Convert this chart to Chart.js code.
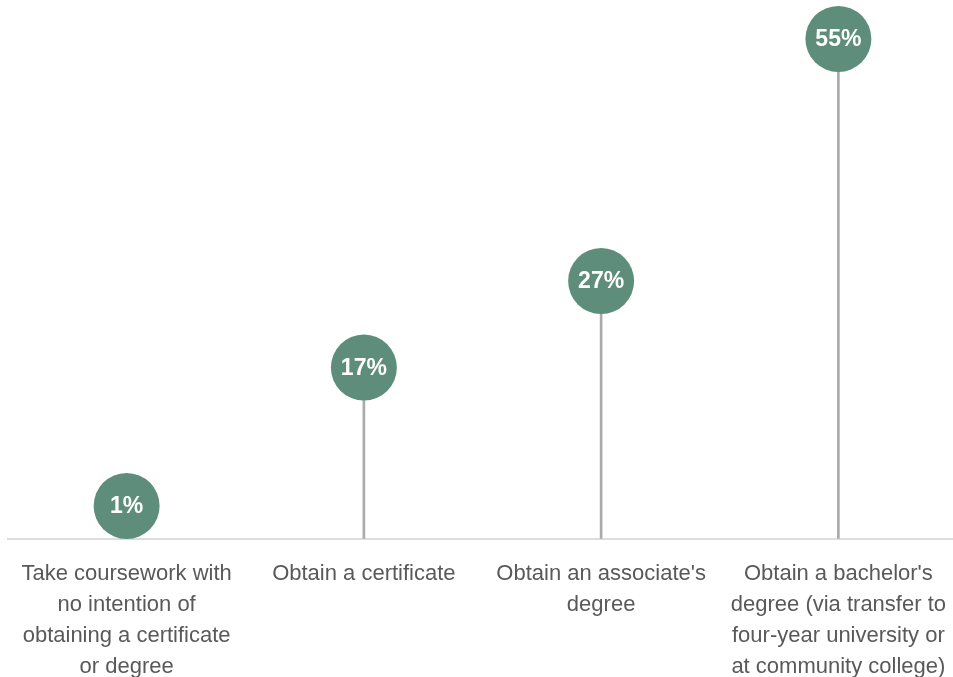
<!DOCTYPE html>
<html>
<head>
<meta charset="utf-8">
<script src="https://cdn.jsdelivr.net/npm/chart.js@4/dist/chart.umd.min.js"></script>
<style>
  html, body { margin: 0; padding: 0; background: #ffffff; overflow: hidden; }
  #wrap { position: absolute; left: 0; top: 0; width: 957px; height: 694px; }
</style>
</head>
<body>
<div id="wrap"><canvas id="chart"></canvas></div>
<script>
// Share of students by what they intend to do at community college
const categories = [
  ["Take coursework with", "no intention of", "obtaining a certificate", "or degree"],
  ["Obtain a certificate"],
  ["Obtain an associate's", "degree"],
  ["Obtain a bachelor's", "degree (via transfer to", "four-year university or", "at community college)"]
];
const shares = [1, 17, 27, 55];

const Y_MIN = -2.8;
const Y_MAX = 59.5;

const FONT = "'Liberation Sans', Arial, Helvetica, sans-serif";
const DOT = '#5e8e7b';

// Writes the percentage inside each dot
const dotLabels = {
  id: 'dotLabels',
  afterDatasetsDraw(chart) {
    const meta = chart.getDatasetMeta(1);
    const ctx = chart.ctx;
    ctx.save();
    ctx.fillStyle = '#ffffff';
    ctx.font = "bold 23px " + FONT;
    ctx.textAlign = 'center';
    ctx.textBaseline = 'middle';
    meta.data.forEach((pt, i) => {
      ctx.fillText(shares[i] + '%', pt.x, pt.y + 1);
    });
    ctx.restore();
  }
};

new Chart(document.getElementById('chart'), {
  type: 'bar',
  data: {
    labels: categories,
    datasets: [
      {
        type: 'bar',
        data: shares,
        base: Y_MIN,
        backgroundColor: '#aaaaaa',
        barThickness: 2,
        order: 2
      },
      {
        type: 'line',
        data: shares,
        showLine: false,
        pointRadius: 33,
        pointHoverRadius: 33,
        pointBackgroundColor: DOT,
        pointBorderColor: DOT,
        pointBorderWidth: 0,
        clip: false,
        order: 1
      }
    ]
  },
  options: {
    responsive: true,
    maintainAspectRatio: false,
    animation: false,
    events: [],
    layout: { autoPadding: false, padding: { left: 8, right: 0, top: 0, bottom: 0 } },
    plugins: {
      legend: { display: false },
      tooltip: { enabled: false }
    },
    scales: {
      x: {
        grid: { display: false },
        border: { display: true, color: '#dddddd', width: 2 },
        afterFit(scale) {
          // keep the plot area full width; the labels fit inside their columns
          scale.paddingLeft = 0;
          scale.paddingRight = 0;
        },
        ticks: {
          autoSkip: false,
          maxRotation: 0,
          minRotation: 0,
          padding: 12,
          color: '#595959',
          font: { family: FONT, size: 22, lineHeight: 1.4 }
        }
      },
      y: {
        display: false,
        min: Y_MIN,
        max: Y_MAX
      }
    }
  },
  plugins: [dotLabels]
});
</script>
</body>
</html>
